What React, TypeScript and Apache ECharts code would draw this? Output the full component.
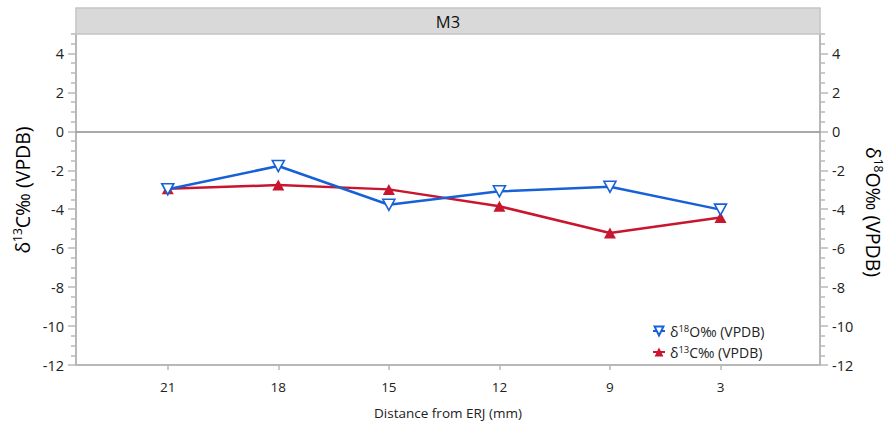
import React, { useEffect, useRef } from "react";
import * as echarts from "echarts";

// Sampling positions along the tooth (distance from ERJ, mm)
const distances = ["21", "18", "15", "12", "9", "3"];
// δ18O‰ (VPDB)
const d18O = [-2.97, -1.78, -3.77, -3.08, -2.85, -4.02];
// δ13C‰ (VPDB)
const d13C = [-2.95, -2.76, -2.98, -3.85, -5.22, -4.43];

const panelTitle = "M3";
const FONT = "'Open Sans', 'Noto Sans', sans-serif";
const AXIS_GREY = "#b8b8b8";
const BLUE = "#1660d8";
const RED = "#c8162e";

// half-unit minor tick positions between the labelled ticks
const minorTicks: number[] = [];
for (let v = -12; v <= 5; v += 0.5) {
  if (Math.abs(v % 2) !== 0) minorTicks.push(v);
}

const richText = {
  a: { fontSize: 19.5, fontFamily: FONT, color: "#111" },
  s: { fontSize: 12, fontFamily: FONT, color: "#111", padding: [0, 0, 10, 0] },
};
const legendRich = {
  a: { fontSize: 14, fontFamily: FONT, color: "#222" },
  s: { fontSize: 9.5, fontFamily: FONT, color: "#222", padding: [0, 0, 6, 0] },
};

export default function App() {
  const ref = useRef<HTMLDivElement>(null);

  useEffect(() => {
    if (!ref.current) return;
    const chart = echarts.init(ref.current, null, { renderer: "svg" });

    const idx = distances.map((_, i) => i);
    const yCommon = {
      type: "value",
      min: -12,
      max: 5,
      interval: 2,
      splitLine: { show: false },
      axisLine: { show: true, onZero: false, lineStyle: { color: AXIS_GREY, width: 2 } },
      axisTick: { show: true, length: 8, lineStyle: { color: AXIS_GREY, width: 1.5 } },
      axisLabel: {
        fontSize: 14.5,
        fontFamily: FONT,
        color: "#222",
        margin: 12,
        showMaxLabel: false,
      },
    };
    const yMinor = {
      type: "value",
      min: -12,
      max: 5,
      interval: 2,
      splitLine: { show: false },
      axisLine: { show: false, onZero: false },
      axisLabel: { show: false },
      axisTick: {
        show: true,
        length: 5,
        customValues: minorTicks,
        lineStyle: { color: AXIS_GREY, width: 1.5 },
      },
    };

    chart.setOption({
      animation: false,
      backgroundColor: "#fff",
      grid: { left: 76, right: 68, top: 34, bottom: 55, containLabel: false },
      xAxis: {
        type: "value",
        min: -0.83,
        max: 5.9,
        name: "Distance from ERJ (mm)",
        nameLocation: "middle",
        nameGap: 41,
        nameTextStyle: { fontSize: 13.5, fontFamily: FONT, color: "#222" },
        splitLine: { show: false },
        axisLine: { show: true, onZero: false, lineStyle: { color: AXIS_GREY, width: 2 } },
        axisTick: {
          show: true,
          length: 5,
          customValues: idx,
          lineStyle: { color: AXIS_GREY, width: 1.5 },
        },
        axisLabel: {
          customValues: idx,
          formatter: (v: number) => distances[Math.round(v)] ?? "",
          fontSize: 13.5,
          fontFamily: FONT,
          color: "#222",
          margin: 15,
        },
      },
      yAxis: [
        { ...yCommon, position: "left" },
        { ...yCommon, position: "right" },
        { ...yMinor, position: "left" },
        { ...yMinor, position: "right" },
      ],
      legend: {
        orient: "vertical",
        left: 647,
        top: 318,
        itemWidth: 12,
        itemHeight: 11,
        itemGap: 6,
        data: ["d18O", "d13C"],
        formatter: (name: string) =>
          name === "d18O"
            ? "{a|δ}{s|18}{a|O‰ (VPDB)}"
            : "{a|δ}{s|13}{a|C‰ (VPDB)}",
        textStyle: { rich: legendRich },
      },
      series: [
        {
          name: "d18O",
          type: "line",
          data: d18O.map((v, i) => [i, v]),
          symbol: "path://M0,0 L10,0 L5,9 Z",
          symbolSize: [12, 11],
          itemStyle: { color: "#fff", borderColor: BLUE, borderWidth: 1.6 },
          lineStyle: { color: BLUE, width: 2.5 },
          z: 3,
          markLine: {
            silent: true,
            symbol: "none",
            label: { show: false },
            lineStyle: { color: "#8c8c8c", width: 1.5, type: "solid" },
            data: [{ yAxis: 0 }],
          },
        },
        {
          name: "d13C",
          type: "line",
          data: d13C.map((v, i) => [i, v]),
          symbol: "triangle",
          symbolSize: [12, 11],
          itemStyle: { color: RED },
          lineStyle: { color: RED, width: 2.5 },
          z: 2,
        },
      ],
      graphic: [
        {
          type: "rect",
          shape: { x: 76, y: 8, width: 744, height: 26 },
          style: { fill: "#d9d9d9", stroke: "#c4c4c4", lineWidth: 1.5 },
          z: 10,
        },
        {
          type: "text",
          x: 448,
          y: 21,
          style: {
            text: panelTitle,
            fontSize: 16.5,
            fontFamily: FONT,
            fill: "#111",
            align: "center",
            verticalAlign: "middle",
          },
          z: 11,
        },
        {
          type: "text",
          x: 22,
          y: 190,
          rotation: Math.PI / 2,
          style: {
            text: "{a|δ}{s|13}{a|C‰ (VPDB)}",
            rich: richText,
            align: "center",
            verticalAlign: "middle",
          },
        },
        {
          type: "text",
          x: 873,
          y: 212,
          rotation: -Math.PI / 2,
          style: {
            text: "{a|δ}{s|18}{a|O‰ (VPDB)}",
            rich: richText,
            align: "center",
            verticalAlign: "middle",
          },
        },
      ],
    });

    return () => chart.dispose();
  }, []);

  return (
    <div
      ref={ref}
      style={{ position: "absolute", left: 0, top: 0, width: 888, height: 425 }}
    />
  );
}
